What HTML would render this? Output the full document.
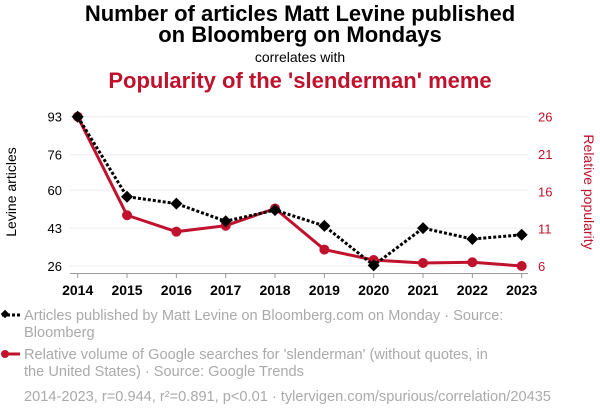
<!DOCTYPE html>
<html><head><meta charset="utf-8"><style>
body{margin:0;width:600px;height:414px;background:#fff;font-family:"Liberation Sans",sans-serif;overflow:hidden}
svg{display:block}
</style></head><body>
<svg width="600" height="414" id="c">
<text x="300" y="21" text-anchor="middle" font-size="22" font-weight="bold" fill="#000">Number of articles Matt Levine published</text>
<text x="300" y="42" text-anchor="middle" font-size="22" font-weight="bold" fill="#000">on Bloomberg on Mondays</text>
<text x="300" y="62" text-anchor="middle" font-size="14" fill="#000">correlates with</text>
<text x="300" y="88" text-anchor="middle" font-size="22" font-weight="bold" fill="#c0122c">Popularity of the 'slenderman' meme</text>
<text transform="translate(16,192) rotate(-90)" text-anchor="middle" font-size="14" fill="#000">Levine articles</text>
<text transform="translate(584,192) rotate(90)" text-anchor="middle" font-size="14" fill="#c0122c">Relative popularity</text>
<g id="plot"></g>
<g>
<line x1="2" y1="315" x2="20" y2="315" stroke="#000" stroke-width="3" stroke-dasharray="3,2"/>
<rect x="2" y="311" width="6" height="6" transform="rotate(45 5 314)" fill="#000"/>
<text x="24" y="320" font-size="14.6" fill="#aaa">Articles published by Matt Levine on Bloomberg.com on Monday · Source:</text>
<text x="24" y="337" font-size="14.6" fill="#aaa">Bloomberg</text>
<line x1="2" y1="354" x2="20" y2="354" stroke="#c0122c" stroke-width="3"/>
<circle cx="5" cy="354" r="4" fill="#c0122c"/>
<text x="24" y="359" font-size="14.6" fill="#aaa">Relative volume of Google searches for 'slenderman' (without quotes, in</text>
<text x="24" y="376" font-size="14.6" fill="#aaa">the United States) · Source: Google Trends</text>
<text x="24" y="401" font-size="14.6" fill="#aaa">2014-2023, r=0.944, r²=0.891, p&lt;0.01 · tylervigen.com/spurious/correlation/20435</text>
</g>
</svg>
<script>
const years=[2014,2015,2016,2017,2018,2019,2020,2021,2022,2023];
const levine=[93,57.1,54,46.1,51.1,44,26.3,43,38.1,40];
const slender=[26,12.8,10.6,11.4,13.7,8.2,6.8,6.4,6.5,6.0];
const leftTicks=[26,43,60,76,93];
const rightTicks=[6,11,16,21,26];
const NS="http://www.w3.org/2000/svg";
const g=document.getElementById('plot');
const xS=i=>77.7+i*(521.7-77.7)/(years.length-1);
const yL=v=>266-(v-26)*(266-116.7)/(93-26);
const yR=v=>266-(v-6)*(266-116.7)/(26-6);
function mk(t,a){const e=document.createElementNS(NS,t);for(const k in a)e.setAttribute(k,a[k]);g.appendChild(e);return e;}
leftTicks.forEach((v,i)=>{
 const l=mk('line',{x1:70,x2:528,y1:yL(v),y2:yL(v),stroke:'#eee','stroke-width':1});
 
 
 const t=mk('text',{x:62,y:yL(v)+5,'text-anchor':'end','font-size':13,fill:'#000'});
 t.textContent=v;
 
 
});
rightTicks.forEach(v=>{
 const t=mk('text',{x:538,y:yR(v)+5,'font-size':13,fill:'#c0122c'});
 t.textContent=v;
 
 
});
const ax=mk('line',{x1:70,x2:528,y1:273.5,y2:273.5,stroke:'#999','stroke-width':1});


years.forEach((y,i)=>{
 mk('line',{x1:xS(i),x2:xS(i),y1:273.5,y2:278,stroke:'#999'});
 const t=mk('text',{x:xS(i),y:295,'text-anchor':'middle','font-size':14,'font-weight':'bold',fill:'#000'});
 t.textContent=y;
 
 
});
const rl=mk('polyline',{points:slender.map((v,i)=>xS(i)+','+yR(v)).join(' '),fill:'none',stroke:'#c0122c','stroke-width':3});


slender.forEach((v,i)=>{
 const c=mk('circle',{cx:xS(i),cy:yR(v),r:5,fill:'#c0122c'});
 
 
});
const bl=mk('polyline',{points:levine.map((v,i)=>xS(i)+','+yL(v)).join(' '),fill:'none',stroke:'#000','stroke-width':3,'stroke-dasharray':'3,2'});


levine.forEach((v,i)=>{
 const x=xS(i),y=yL(v);
 const p=mk('polygon',{points:`${x},${y-6} ${x+6},${y} ${x},${y+6} ${x-6},${y}`,fill:'#000'});
 
 
});
</script>
</body></html>
